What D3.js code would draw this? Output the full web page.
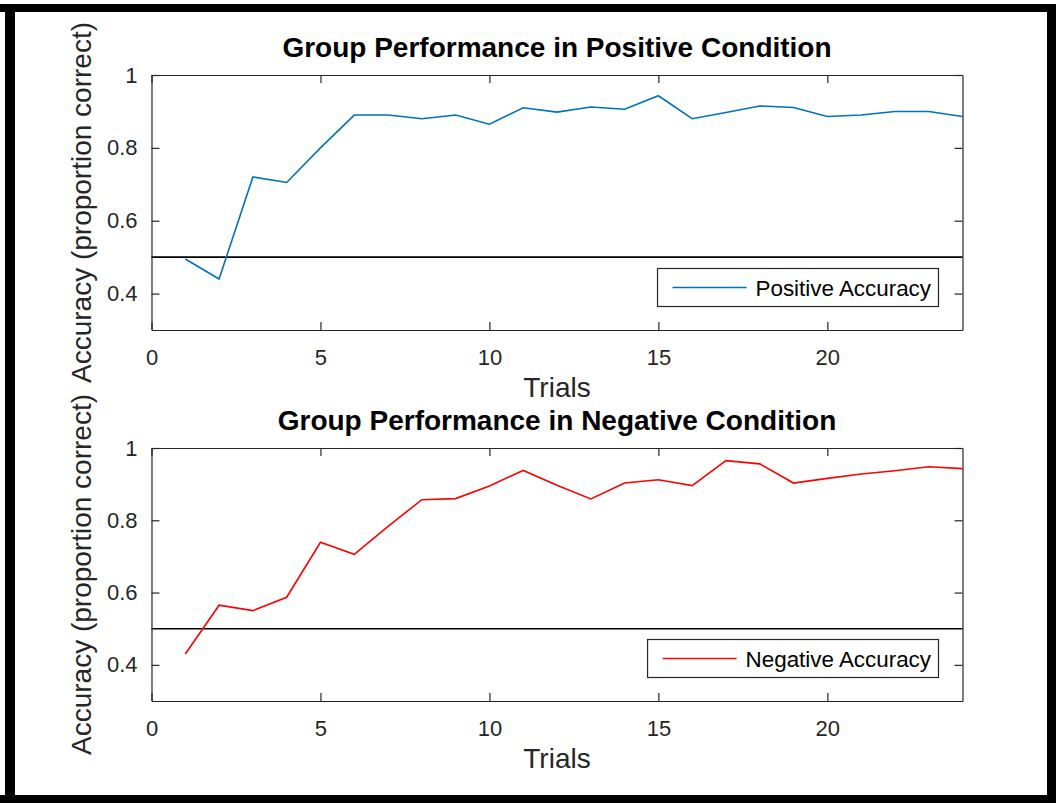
<!DOCTYPE html>
<html>
<head>
    <meta charset="UTF-8">
    <title>Group Performance</title>
    <script src="https://d3js.org/d3.v7.min.js"></script>
    <style>
        body { margin: 0; background: #ffffff; }
        svg { display: block; }
        .tick text { font-family: "Liberation Sans", Arial, sans-serif; font-size: 22px; fill: #262626; }
        .tick line, .domain { stroke: #262626; stroke-width: 1.2; }
    </style>
</head>
<body>
    <svg id="chart"></svg>

    <script>
        // data
        const trials = [1, 2, 3, 4, 5, 6, 7, 8, 9, 10, 11, 12, 13, 14, 15, 16, 17, 18, 19, 20, 21, 22, 23, 24];
        const positiveAccuracy = [0.495, 0.44, 0.72, 0.705, 0.80, 0.89, 0.89, 0.88, 0.89, 0.865, 0.91, 0.898,
                                  0.912, 0.906, 0.943, 0.88, 0.897, 0.915, 0.911, 0.886, 0.89, 0.90, 0.90, 0.886];
        const negativeAccuracy = [0.43, 0.565, 0.55, 0.587, 0.739, 0.706, 0.783, 0.857, 0.86, 0.895, 0.938, 0.897,
                                  0.859, 0.903, 0.912, 0.896, 0.965, 0.956, 0.903, 0.916, 0.928, 0.937, 0.948, 0.943];
        const chance = 0.5;
        const xTicks = [0, 5, 10, 15, 20];
        const yTicks = [0.4, 0.6, 0.8, 1];
        const xDomain = [0, 24];
        const yDomain = [0.3, 1];

        const W = 1056, H = 803;
        const font = '"Liberation Sans", Arial, sans-serif';

        const svg = d3.select('#chart')
            .attr('width', W)
            .attr('height', H);

        svg.append('rect').attr('width', W).attr('height', H).attr('fill', '#fff');

        // black frame around the picture
        svg.append('rect').attr('x', 0).attr('y', 4).attr('width', W).attr('height', 8).attr('fill', '#000');
        svg.append('rect').attr('x', 5).attr('y', 4).attr('width', 10).attr('height', H - 4).attr('fill', '#000');
        svg.append('rect').attr('x', 1047).attr('y', 4).attr('width', 9).attr('height', H - 4).attr('fill', '#000');
        svg.append('rect').attr('x', 0).attr('y', 795).attr('width', W).attr('height', 8).attr('fill', '#000');

        const panels = [
            { title: 'Group Performance in Positive Condition', values: positiveAccuracy,
              color: '#0072BD', name: 'Positive Accuracy', left: 151.5, right: 962.5, top: 75, bottom: 330 },
            { title: 'Group Performance in Negative Condition', values: negativeAccuracy,
              color: '#FF0000', name: 'Negative Accuracy', left: 151.5, right: 962.5, top: 448, bottom: 701 }
        ];

        panels.forEach(p => drawPanel(p));

        function drawPanel(p) {
            const x = d3.scaleLinear().domain(xDomain).range([p.left, p.right]);
            const y = d3.scaleLinear().domain(yDomain).range([p.bottom, p.top]);
            const g = svg.append('g');

            // box with inward ticks on all four sides
            g.append('g')
                .attr('transform', `translate(0,${p.bottom})`)
                .call(d3.axisBottom(x).tickValues(xTicks).tickSize(-8).tickSizeOuter(0).tickPadding(19));
            g.append('g')
                .attr('transform', `translate(0,${p.top})`)
                .call(d3.axisTop(x).tickValues(xTicks).tickSize(-8).tickSizeOuter(0).tickFormat(''));
            g.append('g')
                .attr('transform', `translate(${p.left},0)`)
                .call(d3.axisLeft(y).tickValues(yTicks).tickSize(-8).tickSizeOuter(0).tickPadding(14)
                    .tickFormat(d => d === 1 ? '1' : d3.format('.1f')(d)));
            g.append('g')
                .attr('transform', `translate(${p.right},0)`)
                .call(d3.axisRight(y).tickValues(yTicks).tickSize(-8).tickSizeOuter(0).tickFormat(''));

            // chance line
            g.append('line')
                .attr('x1', x(xDomain[0])).attr('x2', x(xDomain[1]))
                .attr('y1', y(chance)).attr('y2', y(chance))
                .attr('stroke', '#000').attr('stroke-width', 1.6);

            // accuracy line
            const line = d3.line()
                .x((d, i) => x(trials[i]))
                .y(d => y(d));
            g.append('path')
                .datum(p.values)
                .attr('fill', 'none')
                .attr('stroke', p.color)
                .attr('stroke-width', 1.6)
                .attr('d', line);

            // title
            g.append('text')
                .attr('x', (p.left + p.right) / 2)
                .attr('y', p.top - 18)
                .attr('text-anchor', 'middle')
                .style('font-family', font)
                .style('font-weight', 'bold')
                .style('font-size', '28px')
                .attr('fill', '#000')
                .text(p.title);

            // axis labels
            g.append('text')
                .attr('x', (p.left + p.right) / 2)
                .attr('y', p.bottom + 67)
                .attr('text-anchor', 'middle')
                .style('font-family', font)
                .style('font-size', '28px')
                .attr('fill', '#262626')
                .text('Trials');

            g.append('text')
                .attr('transform', `translate(91,${(p.top + p.bottom) / 2}) rotate(-90)`)
                .attr('text-anchor', 'middle')
                .style('font-family', font)
                .style('font-size', '28px')
                .attr('fill', '#262626')
                .text('Accuracy (proportion correct)');

            // legend, anchored to the lower right corner
            const legend = g.append('g');
            const box = legend.append('rect');
            const label = legend.append('text')
                .style('font-family', font)
                .style('font-size', '22.4px')
                .attr('fill', '#000')
                .text(p.name);
            const tw = label.node().getComputedTextLength();
            const bx1 = x(xDomain[1]) - 24;
            const by1 = y(yDomain[0]) - 23.5;
            const bh = 38;
            const bx0 = bx1 - 7.5 - tw - 9 - 74 - 15;
            const cy = by1 - bh / 2;
            box.attr('x', bx0).attr('y', by1 - bh).attr('width', bx1 - bx0).attr('height', bh)
                .attr('fill', '#fff').attr('stroke', '#262626').attr('stroke-width', 1.2);
            legend.append('line')
                .attr('x1', bx0 + 15).attr('x2', bx0 + 89)
                .attr('y1', cy).attr('y2', cy)
                .attr('stroke', p.color).attr('stroke-width', 1.6);
            label.attr('x', bx0 + 98).attr('y', cy + 8);
        }
    </script>
</body>
</html>
